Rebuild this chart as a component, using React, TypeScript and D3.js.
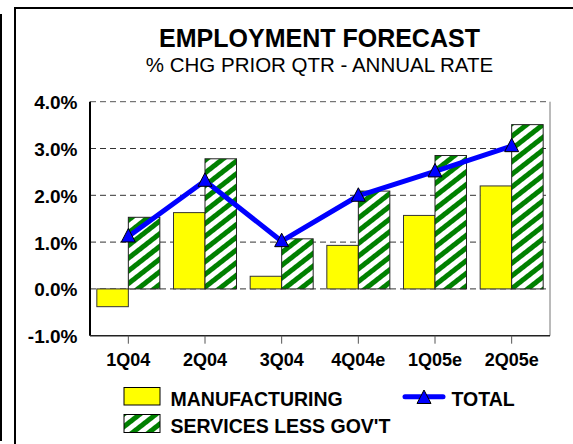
import React from "react";
import * as d3 from "d3";

const categories = ["1Q04", "2Q04", "3Q04", "4Q04e", "1Q05e", "2Q05e"];
const manufacturing = [-0.38, 1.63, 0.27, 0.93, 1.57, 2.2];
const services = [1.53, 2.78, 1.07, 2.09, 2.85, 3.51];
const total = [1.12, 2.31, 1.02, 1.99, 2.51, 3.05];
const yTicks = [-1, 0, 1, 2, 3, 4];
const title = "EMPLOYMENT FORECAST";
const subtitle = "% CHG PRIOR QTR - ANNUAL RATE";
const legendLabels = { manufacturing: "MANUFACTURING", services: "SERVICES LESS GOV'T", total: "TOTAL" };

const W = 573;
const H = 444;
const plot = { left: 90, right: 550, top: 101.7, bottom: 335.7 };
const FONT = "Arial, 'Liberation Sans', Helvetica, sans-serif";

export default function App() {
  const x = d3.scaleBand<string>().domain(categories).range([plot.left, plot.right]).padding(0);
  const y = d3.scaleLinear().domain([-1, 4]).range([plot.bottom, plot.top]);
  const barW = 31.5;
  const cx = (c: string) => (x(c) as number) + x.bandwidth() / 2;
  const line = d3
    .line<number>()
    .x((_, i) => cx(categories[i]))
    .y((d) => y(d));
  const tri = (px: number, py: number) =>
    `M${px},${py - 8} L${px + 7},${py + 5.5} L${px - 7},${py + 5.5} Z`;

  return (
    <svg
      width={W}
      height={H}
      style={{ position: "absolute", left: 0, top: 0, display: "block", background: "#fff" }}
    >
      <defs>
        <pattern
          id="hatch"
          patternUnits="userSpaceOnUse"
          width={10}
          height={10}
          patternTransform="rotate(52)"
        >
          <rect x={0} y={0} width={10} height={10} fill="#fff" />
          <rect x={0} y={0} width={5} height={10} fill="#008000" />
        </pattern>
      </defs>
      {/* outer frames */}
      <line x1={1} y1={14} x2={1} y2={441} stroke="#000" strokeWidth={2} />
      <rect x={15} y={8} width={W} height={H} fill="none" stroke="#000" strokeWidth={2} />

      {/* titles */}
      <text x={319.5} y={46.5} textAnchor="middle" fontFamily={FONT} fontWeight="bold" fontSize={25}>
        {title}
      </text>
      <text x={319.5} y={71.5} textAnchor="middle" fontFamily={FONT} fontSize={20.5}>
        {subtitle}
      </text>

      {/* gridlines */}
      {yTicks.filter((t) => t > -1).map((t) => (
        <line
          key={"g" + t}
          x1={plot.left}
          x2={plot.right}
          y1={y(t)}
          y2={y(t)}
          stroke={t === 4 ? "#555" : "#333"}
          strokeWidth={1}
          strokeDasharray="6,4"
        />
      ))}
      {/* right border */}
      <line x1={plot.right} x2={plot.right} y1={plot.top} y2={plot.bottom} stroke="#777" strokeWidth={1} />

      {/* bars */}
      {categories.map((c, i) => {
        const m = manufacturing[i];
        const s = services[i];
        return (
          <g key={c}>
            <rect
              x={cx(c) - barW}
              y={Math.min(y(m), y(0))}
              width={barW}
              height={Math.abs(y(m) - y(0))}
              fill="#ffff00"
              stroke="#333"
              strokeWidth={1}
            />
            <rect
              x={cx(c)}
              y={Math.min(y(s), y(0))}
              width={barW}
              height={Math.abs(y(s) - y(0))}
              fill="url(#hatch)"
              stroke="#222"
              strokeWidth={1}
            />
          </g>
        );
      })}

      {/* axes */}
      <line x1={plot.left} x2={plot.left} y1={plot.top} y2={plot.bottom} stroke="#000" strokeWidth={2} />
      <line x1={plot.left} x2={plot.right} y1={plot.bottom} y2={plot.bottom} stroke="#222" strokeWidth={1.5} />
      {categories.map((c) => (
        <line key={"t" + c} x1={cx(c)} x2={cx(c)} y1={plot.bottom} y2={plot.bottom + 8} stroke="#555" strokeWidth={1} />
      ))}

      {/* y labels */}
      {yTicks.map((t) => (
        <text
          key={"y" + t}
          x={77.5}
          y={y(t) + 7.5}
          textAnchor="end"
          fontFamily={FONT}
          fontWeight="bold"
          fontSize={19}
        >
          {t.toFixed(1) + "%"}
        </text>
      ))}
      {/* x labels */}
      {categories.map((c) => (
        <text
          key={"x" + c}
          x={cx(c)}
          y={366}
          textAnchor="middle"
          fontFamily={FONT}
          fontWeight="bold"
          fontSize={18}
        >
          {c}
        </text>
      ))}

      {/* total line */}
      <path d={line(total) || ""} fill="none" stroke="#0000ff" strokeWidth={5} strokeLinejoin="round" />
      {total.map((v, i) => (
        <path key={"m" + i} d={tri(cx(categories[i]), y(v))} fill="#0000ff" stroke="#000" strokeWidth={1} />
      ))}

      {/* legend */}
      <rect x={124} y={387.5} width={36} height={17.5} fill="#ffff00" stroke="#000" strokeWidth={1} />
      <text x={170.5} y={406} fontFamily={FONT} fontWeight="bold" fontSize={19.5}>
        {legendLabels.manufacturing}
      </text>
      <rect x={124} y={414.5} width={36} height={18} fill="url(#hatch)" stroke="#000" strokeWidth={1} />
      <text x={170.5} y={432.5} fontFamily={FONT} fontWeight="bold" fontSize={19.5}>
        {legendLabels.services}
      </text>
      <line x1={405} x2={443} y1={396.7} y2={396.7} stroke="#0000ff" strokeWidth={5} strokeLinecap="round" />
      <path d={tri(424, 398)} fill="#0000ff" stroke="#000" strokeWidth={1} />
      <text x={451.5} y={406} fontFamily={FONT} fontWeight="bold" fontSize={19.5}>
        {legendLabels.total}
      </text>
    </svg>
  );
}
